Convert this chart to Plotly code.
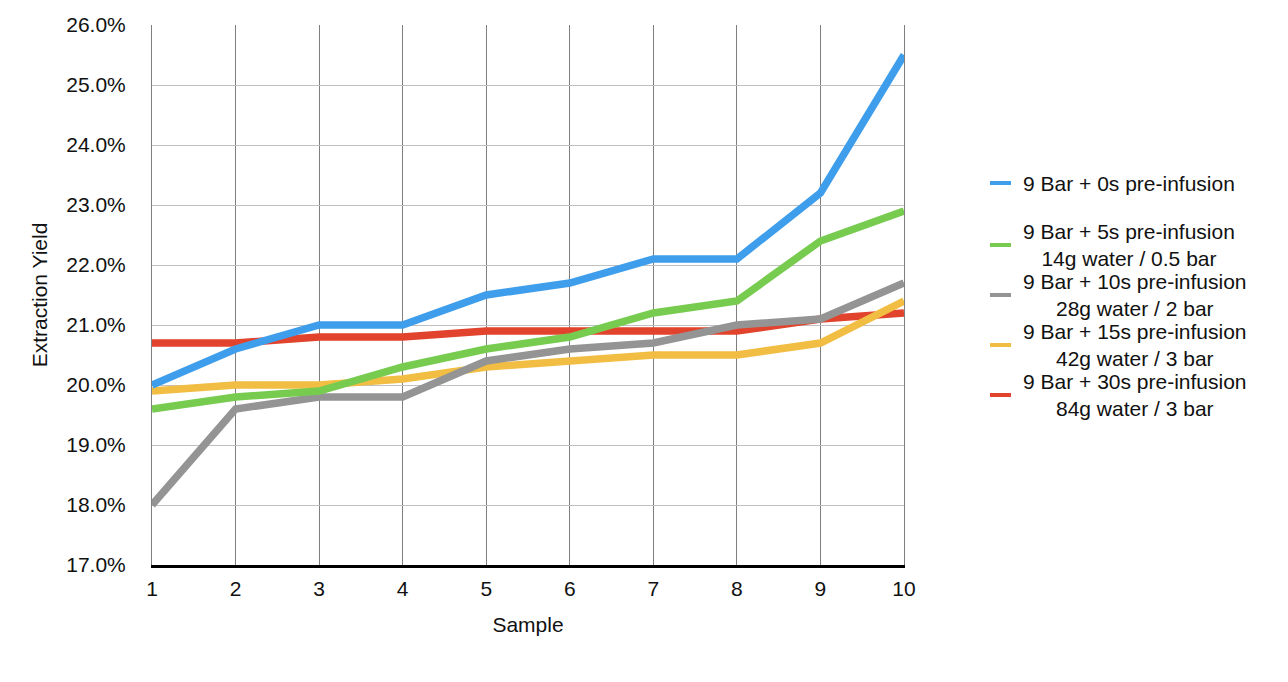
import plotly.graph_objects as go

samples = [1, 2, 3, 4, 5, 6, 7, 8, 9, 10]
blue_0s = [20.0, 20.6, 21.0, 21.0, 21.5, 21.7, 22.1, 22.1, 23.2, 25.5]
green_5s = [19.6, 19.8, 19.9, 20.3, 20.6, 20.8, 21.2, 21.4, 22.4, 22.9]
gray_10s = [18.0, 19.6, 19.8, 19.8, 20.4, 20.6, 20.7, 21.0, 21.1, 21.7]
yellow_15s = [19.9, 20.0, 20.0, 20.1, 20.3, 20.4, 20.5, 20.5, 20.7, 21.4]
red_30s = [20.7, 20.7, 20.8, 20.8, 20.9, 20.9, 20.9, 20.9, 21.1, 21.2]

legend_labels = [
    "9 Bar + 0s pre-infusion",
    "9 Bar + 5s pre-infusion<br>14g water / 0.5 bar",
    "9 Bar + 10s pre-infusion<br>28g water / 2 bar",
    "9 Bar + 15s pre-infusion<br>42g water / 3 bar",
    "9 Bar + 30s pre-infusion<br>84g water / 3 bar",
]
colors = ["#3F9EEC", "#77CC50", "#949494", "#F1BD42", "#E1432C"]
values = [blue_0s, green_5s, gray_10s, yellow_15s, red_30s]

FONT = "Liberation Sans, Arial, Helvetica, sans-serif"
FS = 21

# page geometry (the page body adds an 8px offset)
W, H = 1280, 674
ML, MT = 144, 17
PW, PH = 752, 540

fig = go.Figure()
# draw in reverse so the first series sits on top
for i in reversed(range(len(values))):
    fig.add_trace(go.Scatter(
        x=samples, y=values[i], mode="lines",
        name=legend_labels[i].replace("<br>", " "),
        line=dict(color=colors[i], width=7.5),
        showlegend=False,
    ))

# hand-built legend (matches the two-line centred entries of the original)
def px_x(X):
    return (X - 8 - ML) / PW

def px_y(Y):
    return (MT + 8 + PH - Y) / PH

entry_y = [183, 245, 295, 345, 395]
for lab, col, ey in zip(legend_labels, colors, entry_y):
    fig.add_shape(type="line", xref="paper", yref="paper",
                  x0=px_x(990), x1=px_x(1011), y0=px_y(ey), y1=px_y(ey),
                  line=dict(color=col, width=4))
    fig.add_annotation(xref="paper", yref="paper", x=px_x(1021), y=px_y(ey),
                       xanchor="left", yanchor="middle", align="center",
                       text=lab, showarrow=False,
                       font=dict(family=FONT, size=FS, color="#111111"))

fig.update_layout(
    width=W, height=H,
    margin=dict(l=ML, r=W - ML - PW, t=MT, b=H - MT - PH, autoexpand=False),
    paper_bgcolor="white", plot_bgcolor="white",
    font=dict(family=FONT, size=FS, color="#111111"),
    showlegend=False,
    xaxis=dict(
        range=[1, 10], tickvals=samples, ticktext=[str(s) for s in samples],
        showgrid=True, gridcolor="#7E7E7E", gridwidth=1,
        showline=True, linecolor="black", linewidth=3,
        ticks="", ticklabelstandoff=3, automargin=False,
        tickfont=dict(size=FS),
        title=dict(text="Sample", font=dict(size=FS), standoff=19),
        zeroline=False,
    ),
    yaxis=dict(
        range=[17, 26], dtick=1, tick0=17,
        tickformat=".1f", ticksuffix="%",
        showgrid=True, gridcolor="#C0C0C0", gridwidth=1,
        showline=True, linecolor="#7E7E7E", linewidth=1, mirror=True,
        ticks="", ticklabelstandoff=21, automargin=False,
        tickfont=dict(size=FS),
        title=dict(text="Extraction Yield", font=dict(size=FS), standoff=12),
        zeroline=False,
    ),
)

fig.write_html("out.html")
